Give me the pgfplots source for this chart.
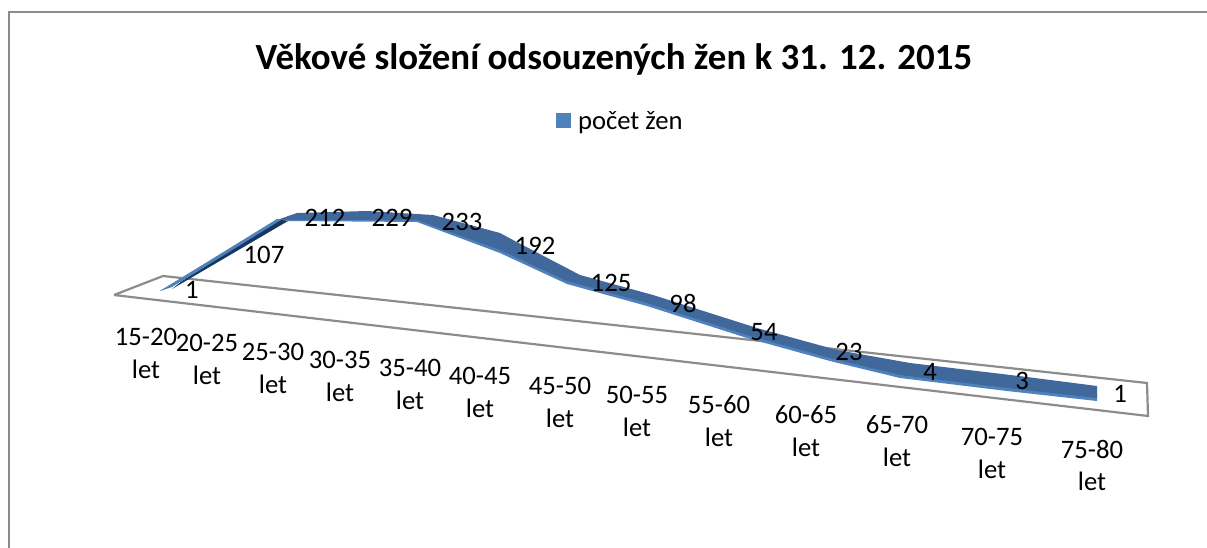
\documentclass[border=0pt]{standalone}
\usepackage{pgfplots}
\pgfplotsset{compat=1.18}
\usepackage{fontspec}
\setmainfont{Carlito}
\definecolor{ribbon}{HTML}{41689A}
\definecolor{ribbonlight}{HTML}{4F81BD}
\definecolor{ribbondark}{HTML}{17375E}
\definecolor{floorline}{HTML}{8C8C8C}
\begin{document}
\begin{tikzpicture}[x=1pt,y=1pt]
\useasboundingbox (0,0) rectangle (1207,548);
\begin{axis}[
  at={(0,0)},anchor=south west,
  scale only axis,width=1207pt,height=548pt,
  xmin=0,xmax=1207,ymin=0,ymax=548,y dir=reverse,
  hide axis,clip=false,
  title={Věkové složení odsouzených žen k 31. 12. 2015},
  title style={at={(axis description cs:0.5087,0.880)},anchor=center,font=\bfseries\fontsize{36.9}{40}\selectfont,inner sep=0pt},
  legend style={at={(axis cs:556,121)},anchor=west,draw=none,fill=none,font=\fontsize{26.67}{30}\selectfont,inner sep=0pt,outer sep=0pt},
  legend image code/.code={\fill[ribbonlight] (0pt,-7.5pt) rectangle (15pt,7.5pt);},
  nodes near coords style={anchor=center,inner sep=0pt,font=\fontsize{26.67}{30}\selectfont,text=black},
]
% outer frame
\addplot[forget plot,floorline,line width=2.4pt] coordinates {(9,548) (9,12) (1207,12)};
% floor
\addplot[forget plot,floorline,line width=2.2pt] coordinates {(114,295) (163,276) (1147,383) (1148,416) (114,295)};
% light lower rim of the band, under the main band
\addplot[forget plot,fill=ribbonlight,draw=none] coordinates {
 (287,216) (417,216) (500,245) (567,276) (647,298) (747,330) (830,353) (900,370) (1007,383) (1097,393)
 (1097,401) (1007,391) (900,378) (830,361) (747,338) (647,306) (567,284) (500,253) (417,222) (287,221)};
% main band
\addplot[fill=ribbon,draw=none] coordinates {
 (160,291) (277,220) (297,213) (367,211) (433,215) (500,233) (513,240) (580,275) (653,295) (757,328) (837,350) (910,363) (1027,377) (1097,386)
 (1097,398) (1007,388) (900,375) (830,358) (747,335) (647,303) (567,281) (500,250) (417,220) (287,220) (172,286) (160,291)};
\addlegendentry{\hspace{5pt}počet žen}
% side face of the rising segment
\addplot[forget plot,fill=ribbondark,draw=none] coordinates {(182,281) (280,220) (288,221) (172,289)};
\addplot[forget plot,fill=ribbonlight,draw=none] coordinates {(160,291) (277,219) (281,220) (172,287)};
% data labels
\addplot[forget plot,only marks,mark=none,point meta=explicit symbolic,nodes near coords] table[x=x,y=y,meta=v] {
x y v
192 290 1
264 255 107
325 218 212
392 218 229
462 222 233
535 246 192
611 283 125
683 303 98
764 332 54
849 352 23
930 372 4
1022 381 3
1120 394 1
};
% category labels
\addplot[forget plot,only marks,mark=none,point meta=explicit symbolic,nodes near coords] table[x=x,y=y,meta=c] {
x y c
146 337 15-20
207 343 20-25
273 352 25-30
340 360 30-35
410 368 35-40
480 376 40-45
560 386 45-50
637 395 50-55
719 405 55-60
806 415 60-65
897 425 65-70
992 437 70-75
1092 449 75-80
};
\addplot[forget plot,only marks,mark=none,point meta=explicit symbolic,nodes near coords] table[x=x,y=y,meta=c] {
x y c
146 369 let
207 375 let
273 384 let
340 392 let
410 400 let
480 408 let
560 418 let
637 427 let
719 437 let
806 447 let
897 457 let
992 469 let
1092 481 let
};
\end{axis}
\end{tikzpicture}
\end{document}
